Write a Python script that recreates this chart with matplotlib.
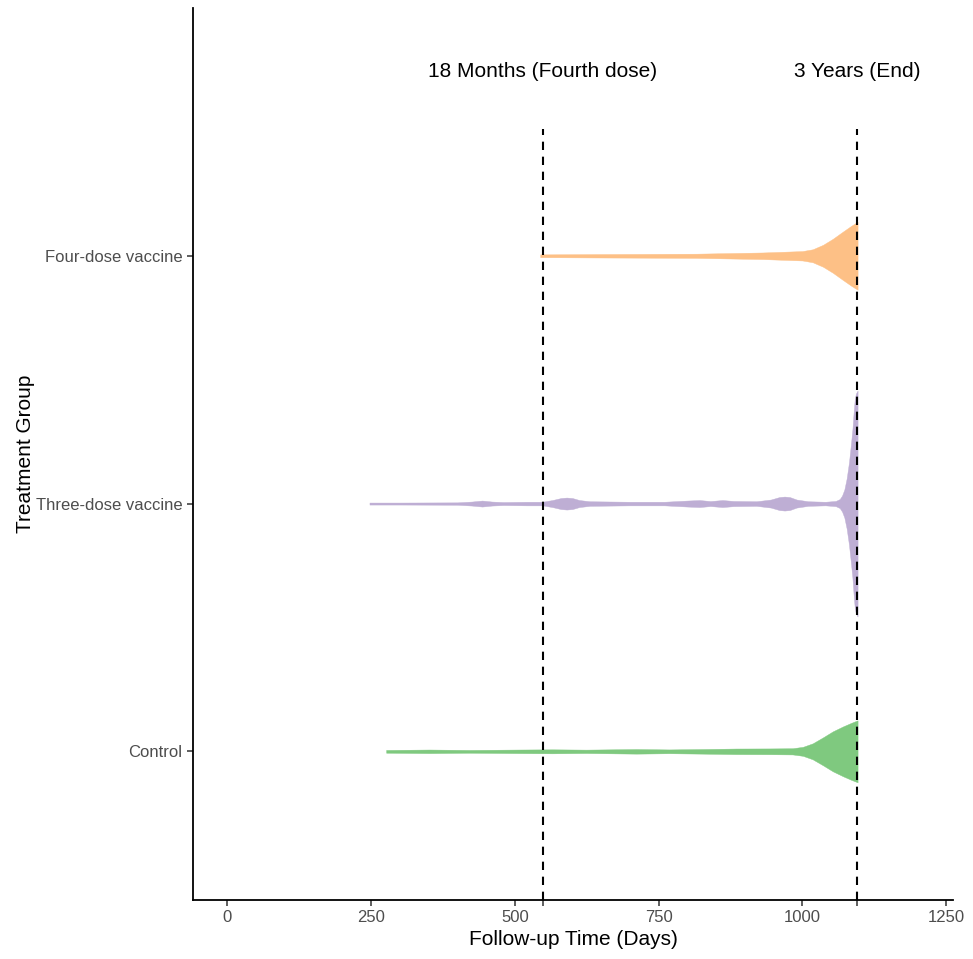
import numpy as np
import matplotlib
matplotlib.use("Agg")
import matplotlib.pyplot as plt

plt.rcParams['font.family'] = ['Liberation Sans', 'DejaVu Sans']

groups = ["Control", "Three-dose vaccine", "Four-dose vaccine"]
colors = ["#7FC97F", "#BEAED4", "#FDC086"]

# violin profiles: follow-up day and half-width (pixels of a 248-px category slot)
control_days = [276, 351, 421, 508, 565, 624, 711, 768, 826, 885, 943, 983, 1001, 1018, 1036, 1053, 1071, 1085, 1096]
control_hw   = [1.4, 1.8, 1.4, 1.8, 2.0, 1.7, 2.3, 1.9, 2.3, 2.8, 2.9, 3.1, 4.5, 8.0, 14.0, 20.0, 25.0, 28.5, 31.0]

three_days = [247, 300, 400, 425, 443, 460, 480, 520, 548, 565, 580, 590, 600, 612, 630, 700, 760, 800, 821, 840,
              861, 880, 920, 945, 960, 969, 978, 990, 1010, 1040, 1058, 1065, 1069, 1073, 1077, 1081, 1084, 1087,
              1089, 1091, 1093, 1096]
three_hw   = [1.0, 1.0, 1.2, 2.0, 3.0, 2.0, 1.5, 1.8, 1.8, 3.5, 5.5, 6.0, 5.5, 3.5, 2.3, 1.8, 1.8, 3.0, 3.5, 2.5,
              3.5, 2.6, 2.3, 4.0, 6.5, 7.0, 6.5, 4.0, 2.3, 1.8, 2.6, 4.5, 8.0, 14.0, 25.0, 41.0, 57.0, 74.0,
              90.0, 104.0, 110.0, 113.0]

four_days = [544, 642, 816, 931, 1000, 1018, 1036, 1053, 1070, 1085, 1096]
four_hw   = [1.4, 1.7, 2.1, 3.3, 4.7, 6.5, 11.0, 17.0, 24.0, 30.0, 34.0]

profiles = [(control_days, control_hw), (three_days, three_hw), (four_days, four_hw)]

marker_days = [548, 1095]
marker_labels = ["18 Months (Fourth dose)", "3 Years (End)"]
xticks = [0, 250, 500, 750, 1000, 1250]

W, H = 973, 959
fig = plt.figure(figsize=(W / 100, H / 100), dpi=100)
fig.patch.set_facecolor("white")
ax = fig.add_axes([193 / W, (H - 900) / H, (953 - 193) / W, (900 - 8) / H])
ax.set_xlim(-60, 1262)
ax.set_ylim(0.4, 4.0)

slot_px = 248.0
for i, ((d, hw), c) in enumerate(zip(profiles, colors)):
    y0 = i + 1
    d = np.asarray(d, float)
    w = np.asarray(hw, float) / slot_px
    ax.fill_between(d, y0 - w, y0 + w, facecolor=c, edgecolor=c, linewidth=0.3, zorder=2)

for md, ml in zip(marker_days, marker_labels):
    ax.vlines(md, 0.4, 3.51, colors="black", linestyles=(0, (4, 3.2)), linewidth=1.5, zorder=3)
    ax.text(md, 3.742, ml, ha="center", va="center", fontsize=15, color="black")

ax.set_yticks([1, 2, 3])
ax.set_yticklabels(groups)
ax.set_xticks(xticks + marker_days)
ax.set_xticklabels([str(t) for t in xticks] + ["", ""])

for s in ["top", "right"]:
    ax.spines[s].set_visible(False)
for s in ["left", "bottom"]:
    ax.spines[s].set_linewidth(1.3)
    ax.spines[s].set_color("black")

ax.tick_params(axis="both", length=4.5, width=1.1, color="#333333", labelcolor="#4D4D4D",
               labelsize=12, pad=3)
ax.set_xlabel("Follow-up Time (Days)", fontsize=15, color="black", labelpad=3)
ax.set_ylabel("Treatment Group", fontsize=15, color="black", labelpad=1)
ax.set_facecolor("white")

fig.savefig("out.png", dpi=100, facecolor="white")
